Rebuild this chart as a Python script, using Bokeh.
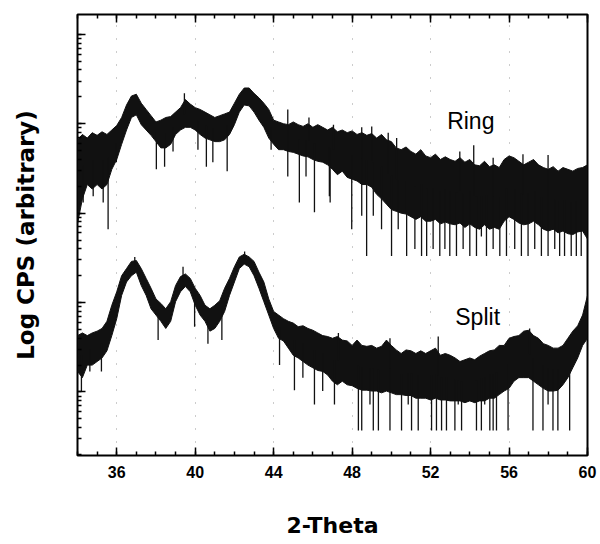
import numpy as np
from bokeh.plotting import figure
from bokeh.models import Range1d, LinearAxis, SingleIntervalTicker, LogTicker, CustomLabelingPolicy
from bokeh.core.properties import value
from bokeh.embed import file_html
from bokeh.resources import INLINE

# 2-theta sampling (degrees), 0.25 deg step from 34 to 60
two_theta = np.arange(34.0, 60.001, 0.25)

# Values are log10(CPS), arbitrary units
# Ring: upper edge and lower edge of the dense noise band
ring_hi_log = [
    3.82, 3.88, 3.84, 3.90,
    3.87, 3.91, 3.88, 3.93,
    3.98, 4.07, 4.21, 4.31,
    4.33, 4.23, 4.16, 4.09,
    4.02, 4.04, 4.07, 4.08,
    4.13, 4.18, 4.27, 4.22,
    4.18, 4.16, 4.13, 4.10,
    4.07, 4.09, 4.11, 4.13,
    4.23, 4.33, 4.40, 4.40,
    4.34, 4.29, 4.23, 4.16,
    4.04, 4.02, 4.00, 3.99,
    4.02, 3.99, 3.97, 4.00,
    3.96, 3.99, 3.96, 3.93,
    3.96, 3.91, 3.93, 3.90,
    3.92, 3.88, 3.90, 3.87,
    3.89, 3.84, 3.88, 3.82,
    3.80, 3.73, 3.71, 3.74,
    3.69, 3.66, 3.71, 3.64,
    3.62, 3.66, 3.60, 3.63,
    3.60, 3.58, 3.62, 3.57,
    3.60, 3.54, 3.53, 3.58,
    3.52, 3.54, 3.51, 3.60,
    3.64, 3.62, 3.58, 3.54,
    3.57, 3.60, 3.54, 3.51,
    3.49, 3.52, 3.47, 3.51,
    3.49, 3.47, 3.50, 3.51,
    3.54,
]
ring_lo_log = [
    2.88, 3.16, 3.32, 3.27,
    3.32, 3.27, 3.32, 3.49,
    3.60, 3.77, 3.93, 4.07,
    4.10, 3.99, 3.93, 3.87,
    3.80, 3.73, 3.73, 3.77,
    3.88, 3.93, 3.96, 3.96,
    3.93, 3.88, 3.84, 3.82,
    3.80, 3.80, 3.82, 3.88,
    3.99, 4.13, 4.21, 4.20,
    4.13, 4.04, 3.96, 3.84,
    3.77, 3.71, 3.71, 3.69,
    3.68, 3.66, 3.64, 3.63,
    3.60, 3.58, 3.57, 3.54,
    3.49, 3.43, 3.47, 3.40,
    3.38, 3.36, 3.32, 3.32,
    3.29, 3.21, 3.16, 3.10,
    3.04, 3.02, 3.00, 2.99,
    2.96, 2.93, 2.96, 2.91,
    2.91, 2.93, 2.88, 2.90,
    2.88, 2.87, 2.89, 2.84,
    2.88, 2.84, 2.82, 2.87,
    2.82, 2.84, 2.82, 2.91,
    2.96, 2.93, 2.89, 2.87,
    2.88, 2.91, 2.87, 2.82,
    2.80, 2.82, 2.78, 2.80,
    2.77, 2.76, 2.79, 2.80,
    2.71,
]
# Ring: isolated noise spikes (position, tip value)
ring_spike_x = [34.29, 34.80, 35.31, 35.56, 35.98, 38.02, 38.44, 38.87, 40.14, 40.57,
                40.90, 41.63, 43.87, 44.72, 45.31, 45.65, 46.08, 46.84, 46.88, 47.98,
                48.49, 48.74, 49.08, 49.50, 50.01, 50.35, 50.78, 51.20, 51.54, 51.80,
                52.13, 52.47, 52.73, 52.98, 53.32, 53.66, 54.00, 54.34, 54.59, 54.85,
                55.19, 55.53, 55.87, 56.29, 56.63, 56.97, 57.31, 57.65, 57.99, 58.33,
                58.58, 58.83, 59.17, 59.43, 59.68,
                39.45, 44.72, 45.80, 47.05, 48.49, 49.00, 49.84, 50.27, 53.49, 54.20,
                55.19, 56.71, 57.99]
ring_spike_log = [3.12, 3.19, 3.12, 2.82, 3.57, 3.49, 3.52, 3.69, 3.71, 3.52,
                  3.57, 3.47, 3.71, 3.41, 3.12, 3.41, 3.01, 3.19, 3.12, 2.82,
                  2.97, 2.52, 2.97, 2.82, 2.52, 2.82, 2.52, 2.60, 2.52, 2.52,
                  2.60, 2.52, 2.60, 2.52, 2.52, 2.60, 2.52, 2.52, 2.74, 2.52,
                  2.60, 2.52, 2.52, 2.60, 2.52, 2.52, 2.60, 2.52, 2.52, 2.60,
                  2.52, 2.52, 2.52, 2.52, 2.52,
                  4.34, 4.16, 4.07, 3.99, 3.96, 3.97, 3.90, 3.84, 3.69, 3.76,
                  3.62, 3.66, 3.65]

# Split: upper edge and lower edge of the noise band
split_hi_log = [
    1.63, 1.66, 1.63, 1.66,
    1.68, 1.71, 1.79, 1.97,
    2.12, 2.30, 2.38, 2.46,
    2.47, 2.38, 2.27, 2.16,
    2.04, 1.99, 1.93, 2.01,
    2.19, 2.29, 2.32, 2.27,
    2.16, 2.08, 1.97, 1.93,
    1.97, 2.02, 2.16, 2.27,
    2.40, 2.51, 2.54, 2.51,
    2.46, 2.34, 2.23, 2.04,
    1.90, 1.86, 1.82, 1.79,
    1.77, 1.73, 1.74, 1.71,
    1.69, 1.66, 1.63, 1.62,
    1.60, 1.62, 1.58, 1.57,
    1.52, 1.58, 1.52, 1.51,
    1.52, 1.49, 1.51, 1.58,
    1.52, 1.47, 1.43, 1.47,
    1.46, 1.43, 1.46, 1.43,
    1.46, 1.49, 1.41, 1.43,
    1.41, 1.38, 1.34, 1.36,
    1.38, 1.36, 1.40, 1.43,
    1.46, 1.47, 1.52, 1.52,
    1.60, 1.62, 1.63, 1.68,
    1.69, 1.63, 1.60, 1.54,
    1.52, 1.49, 1.49, 1.52,
    1.60, 1.68, 1.74, 1.86,
    2.08,
]
split_lo_log = [
    1.23, 1.16, 1.30, 1.30,
    1.34, 1.38, 1.46, 1.63,
    1.82, 2.08, 2.23, 2.30,
    2.34, 2.19, 2.08, 1.93,
    1.86, 1.79, 1.71, 1.79,
    2.01, 2.12, 2.18, 2.12,
    1.97, 1.86, 1.79, 1.68,
    1.71, 1.79, 1.90, 2.08,
    2.23, 2.38, 2.43, 2.40,
    2.30, 2.16, 2.01, 1.86,
    1.71, 1.60, 1.57, 1.49,
    1.41, 1.38, 1.34, 1.30,
    1.27, 1.24, 1.23, 1.19,
    1.12, 1.08, 1.12, 1.08,
    1.07, 1.04, 1.02, 1.02,
    1.01, 1.01, 0.99, 1.01,
    0.99, 0.97, 0.97, 0.96,
    0.96, 0.93, 0.93, 0.93,
    0.91, 0.93, 0.91, 0.91,
    0.90, 0.90, 0.90, 0.88,
    0.90, 0.88, 0.90, 0.90,
    0.93, 0.93, 0.97, 1.01,
    1.04, 1.12, 1.16, 1.16,
    1.16, 1.12, 1.08, 1.04,
    1.01, 1.01, 1.02, 1.08,
    1.16, 1.27, 1.38, 1.52,
    1.60,
]
split_spike_x = [34.20, 34.63, 35.22, 38.11, 39.97, 40.65, 41.36, 44.30, 45.06, 45.49,
                 46.08, 46.50, 47.10, 48.32, 48.49, 48.91, 49.08, 49.34, 49.93, 50.52,
                 50.86, 51.03, 51.37, 52.05, 52.30, 52.56, 52.81, 53.24, 53.41, 53.58,
                 54.34, 54.59, 54.76, 55.02, 55.19, 55.36, 55.95, 57.22, 57.73, 57.99,
                 58.24, 58.49, 59.09,
                 36.92, 39.38, 42.52, 47.30, 49.93, 52.39, 57.05]
split_spike_log = [1.01, 1.23, 1.23, 1.58, 1.73, 1.54, 1.58, 1.30, 1.02, 1.16,
                   0.86, 1.01, 0.86, 0.57, 0.57, 0.86, 0.57, 0.57, 0.57, 0.57,
                   0.86, 0.57, 0.57, 0.57, 0.57, 0.57, 0.57, 0.57, 0.86, 0.57,
                   0.57, 0.57, 0.86, 0.57, 0.57, 0.57, 0.57, 0.57, 0.57, 0.86,
                   0.57, 0.57, 0.57,
                   2.51, 2.40, 2.57, 1.66, 1.60, 1.62, 1.71]

labels = ["Ring", "Split"]
label_x = [54.05, 54.40]
label_y_log = [4.03, 1.84]

x_ticks_interval = 4

p = figure(width=598, height=540, x_range=Range1d(34, 60),
           y_range=Range1d(10 ** 0.289, 10 ** 5.222), y_axis_type="log",
           output_backend="svg", toolbar_location=None,
           min_border_left=77, min_border_right=11, min_border_top=14, min_border_bottom=82)
p.background_fill_color = "white"
p.border_fill_color = "white"
p.outline_line_color = "black"
p.outline_line_width = 2

ink = "#111111"

def band(hi_log, lo_log, sx, slog):
    hi = 10 ** np.array(hi_log)
    lo = 10 ** np.array(lo_log)
    p.varea(x=two_theta, y1=lo, y2=hi, fill_color=ink)
    p.line(two_theta, hi, line_color=ink, line_width=1)
    p.line(two_theta, lo, line_color=ink, line_width=1)
    mid_log = (np.array(hi_log) + np.array(lo_log)) / 2
    base = 10 ** np.interp(sx, two_theta, mid_log)
    p.segment(x0=sx, y0=base, x1=sx, y1=10 ** np.array(slog), line_color=ink, line_width=1.3)

band(ring_hi_log, ring_lo_log, ring_spike_x, ring_spike_log)
band(split_hi_log, split_lo_log, split_spike_x, split_spike_log)

p.text(x=label_x, y=[10 ** v for v in label_y_log], text=labels,
       text_font=value("Liberation Sans"), text_font_size="23px",
       text_align="center", text_baseline="alphabetic", text_color="black")

ticker = SingleIntervalTicker(interval=x_ticks_interval, num_minor_ticks=4)
xa = p.xaxis[0]
xa.ticker = ticker
xa.axis_label = "2-Theta"
xa.axis_label_text_font = "DejaVu Sans"
xa.axis_label_text_font_style = "bold"
xa.axis_label_text_font_size = "22px"
xa.axis_label_text_color = "black"
xa.axis_label_standoff = 32
xa.major_label_text_font = "Liberation Sans"
xa.major_label_text_font_style = "bold"
xa.major_label_text_font_size = "16px"
xa.major_label_text_color = "black"
xa.major_label_standoff = 10

ya = p.yaxis[0]
ya.ticker = LogTicker(num_minor_ticks=10)
ya.axis_label = "Log CPS (arbitrary)"
ya.axis_label_text_font = "DejaVu Sans"
ya.axis_label_text_font_style = "bold"
ya.axis_label_text_font_size = "23px"
ya.axis_label_text_color = "black"
ya.axis_label_standoff = 19
ya.major_label_policy = CustomLabelingPolicy(code="return new Set()")
ya.major_label_standoff = 0

top = LinearAxis(ticker=ticker, major_label_policy=CustomLabelingPolicy(code="return new Set()"),
                 major_label_standoff=0)
p.add_layout(top, "above")

for ax in [xa, ya, top]:
    ax.axis_line_color = None
    ax.major_tick_in = 8
    ax.major_tick_out = 0
    ax.minor_tick_in = 4
    ax.minor_tick_out = 0
    ax.major_tick_line_color = "black"
    ax.minor_tick_line_color = "black"
    ax.major_tick_line_width = 1.5
    ax.minor_tick_line_width = 1.5

p.xgrid.ticker = ticker
p.xgrid.grid_line_color = "#999999"
p.xgrid.grid_line_dash = "1 12"
p.xgrid.grid_line_width = 1
p.ygrid.grid_line_color = None

open("out.html", "w").write(file_html(p, INLINE))
